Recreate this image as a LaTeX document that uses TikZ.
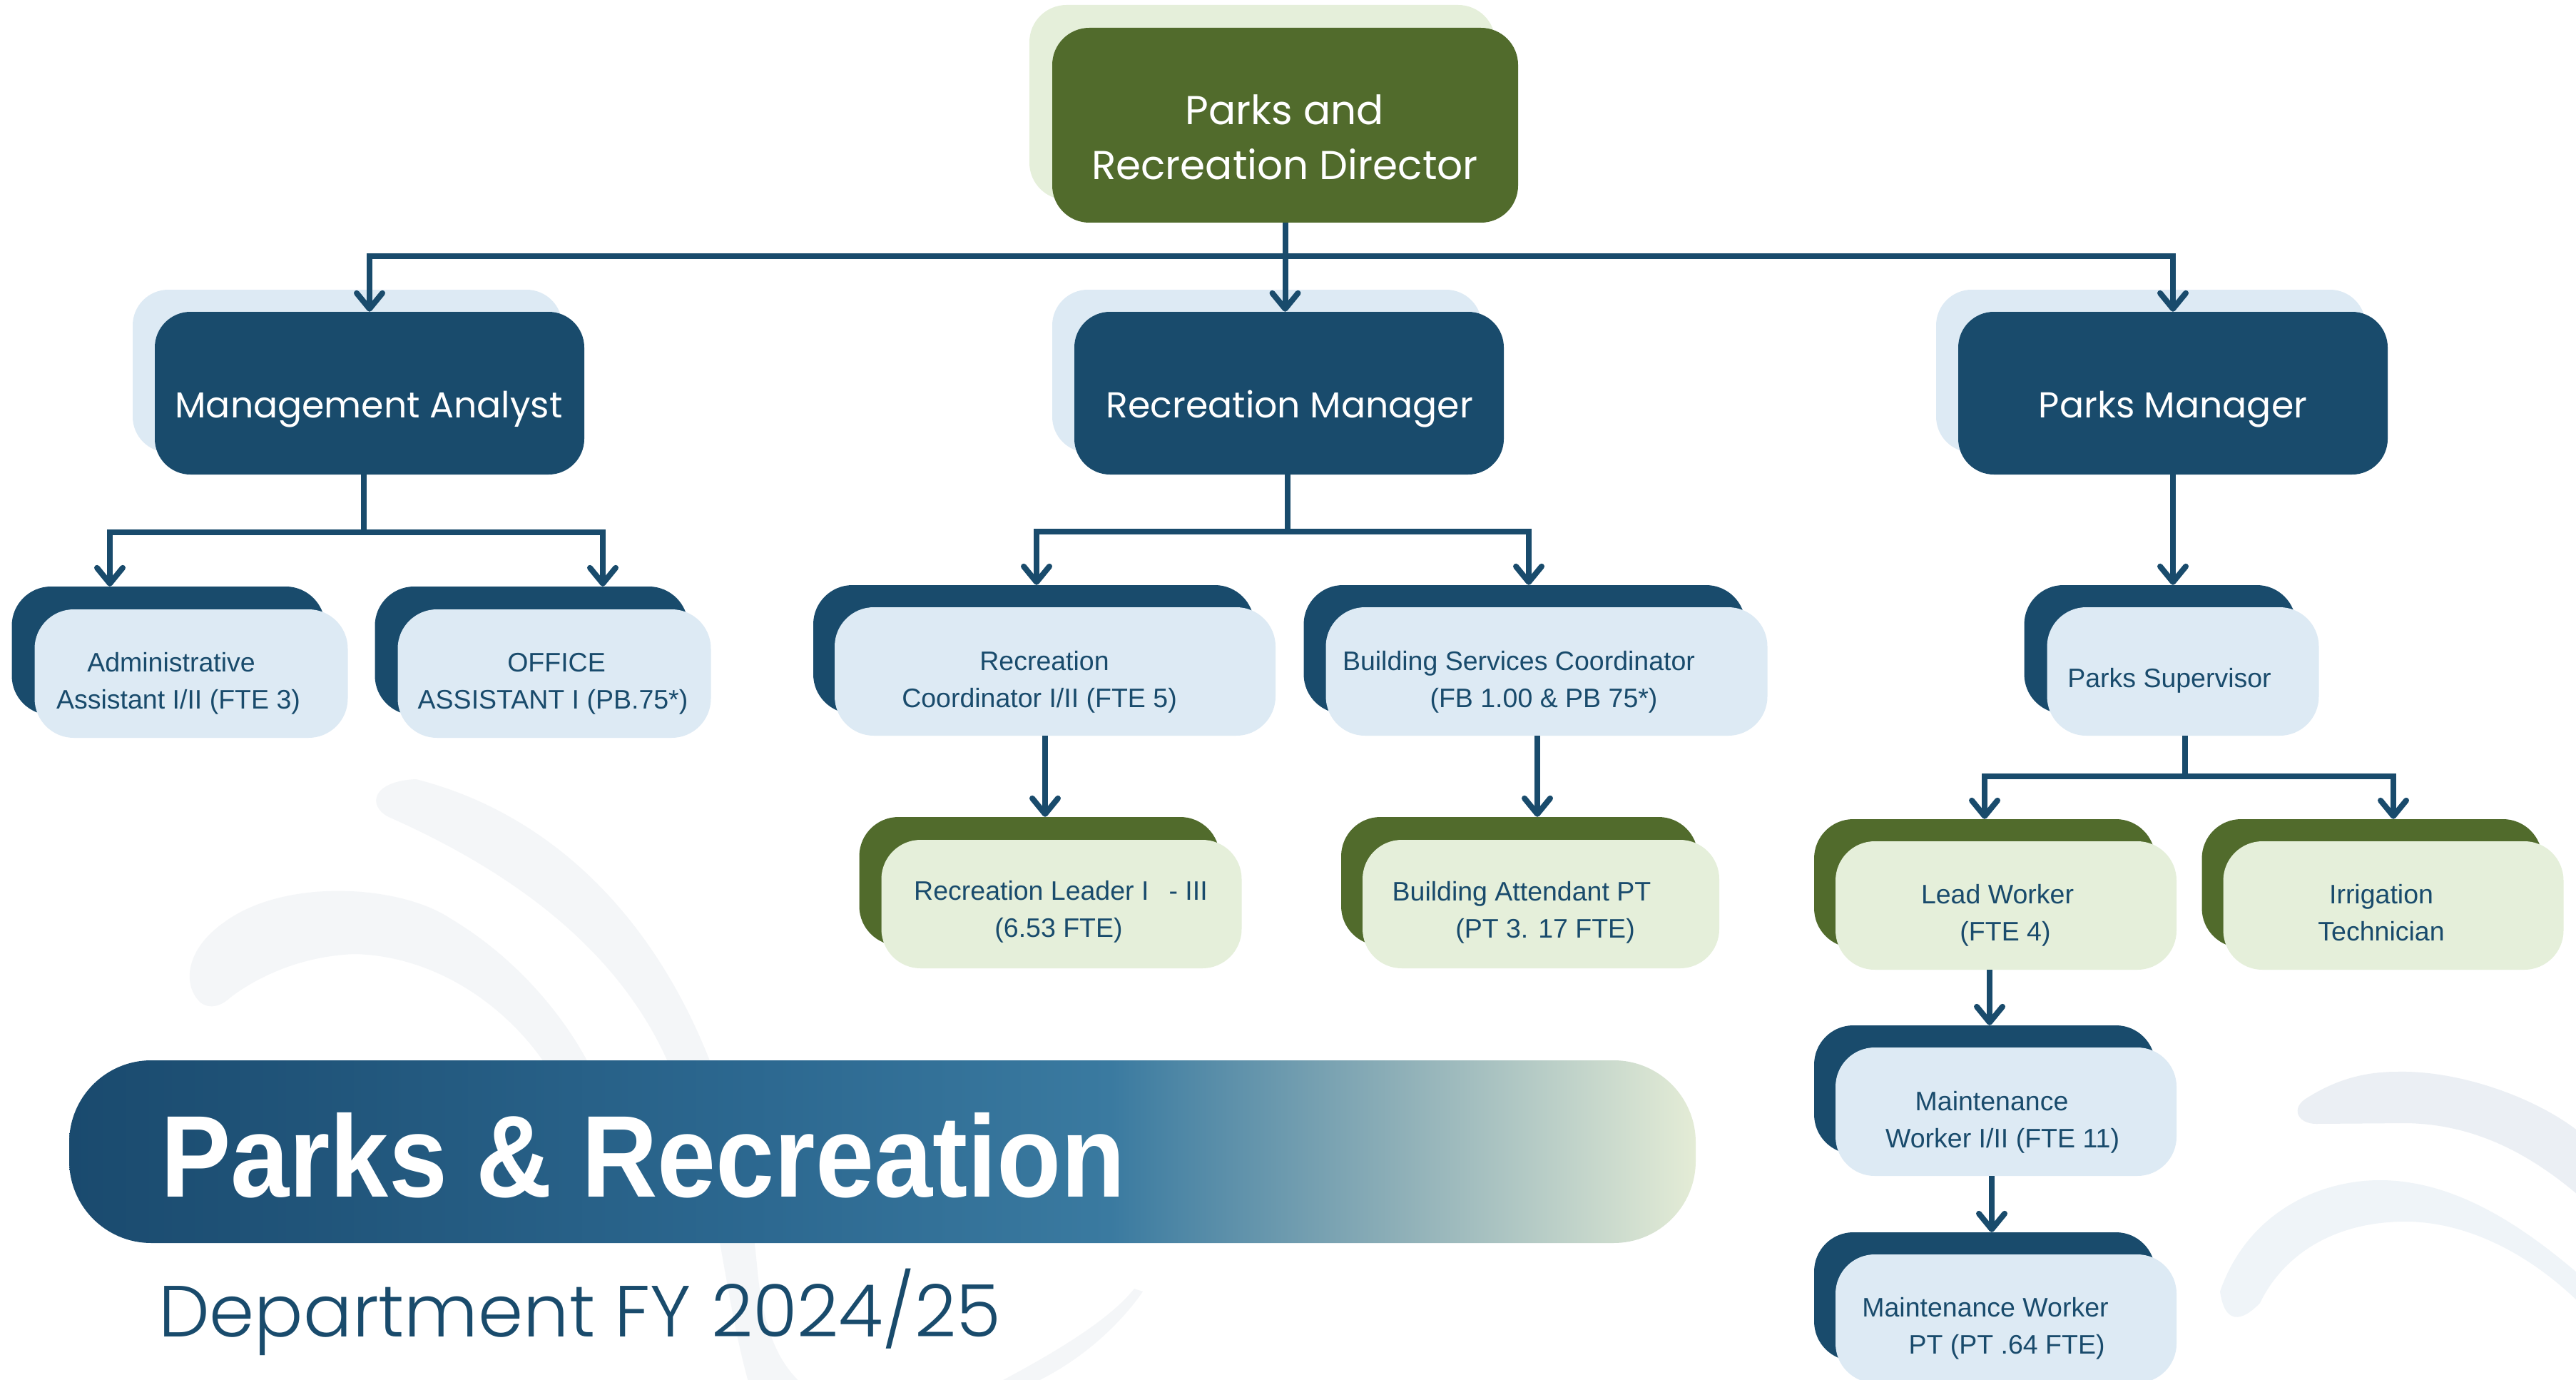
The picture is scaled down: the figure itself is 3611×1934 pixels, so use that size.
\documentclass[tikz,border=0pt]{standalone}
\usepackage{fontspec}
\setmainfont{Liberation Sans}
\newfontfamily\popfont{Poppins}
\newfontfamily\titlefont[FakeStretch=0.905]{Liberation Sans Bold}
\IfFontExistsTF{Poppins Light}{\newfontfamily\subfont{Poppins Light}}{\newfontfamily\subfont{Poppins}}
\usetikzlibrary{arrows.meta,calc}
\definecolor{navy}{HTML}{194B6C}
\definecolor{lblue}{HTML}{DDEAF4}
\definecolor{olive}{HTML}{516B2C}
\definecolor{lgreen}{HTML}{E5EFDA}
\definecolor{wmA}{HTML}{F4F6F8}
\definecolor{wmB}{HTML}{EBEFF4}
\definecolor{wmC}{HTML}{EFF4F8}
\definecolor{bandA}{HTML}{1A4A6E}
\definecolor{bandB}{HTML}{2C6890}
\definecolor{bandC}{HTML}{3A7AA0}
\definecolor{bandD}{HTML}{8FB0B8}
\definecolor{bandE}{HTML}{E4ECD6}
\pgfdeclarehorizontalshading{bandshade}{100bp}{color(0bp)=(bandA); color(25bp)=(bandA); color(46bp)=(bandB); color(57bp)=(bandC); color(66bp)=(bandD); color(75bp)=(bandE); color(100bp)=(bandE)}
\newcommand{\myoff}[1]{\rule{#1pt}{0pt}}
\begin{document}
\begin{tikzpicture}[x=1pt,y=-1pt,
  conn/.style={draw=navy,line width=8pt},
  arr/.style={-{Straight Barb[length=22pt,width=36pt,round]}},
  dirfront/.style={fill=olive,rounded corners=52pt,minimum width=653pt,minimum height=273pt,inner sep=0pt},
  dirback/.style={fill=lgreen,rounded corners=52pt,minimum width=653pt,minimum height=273pt,inner sep=0pt},
  mgrfront/.style={fill=navy,rounded corners=50pt,minimum width=602pt,minimum height=228pt,inner sep=0pt},
  mgrback/.style={fill=lblue,rounded corners=50pt,minimum width=602pt,minimum height=228pt,inner sep=0pt},
  bfront/.style={fill=lblue,rounded corners=55pt,minimum height=180pt,inner sep=0pt},
  bback/.style={fill=navy,rounded corners=55pt,minimum height=180pt,inner sep=0pt},
  gfront/.style={fill=lgreen,rounded corners=55pt,minimum height=180pt,inner sep=0pt},
  gback/.style={fill=olive,rounded corners=55pt,minimum height=180pt,inner sep=0pt},
  lbl/.style={font=\fontsize{37.5}{52}\selectfont,text=navy,align=center,inner sep=0pt,anchor=base},
  hd/.style={font=\popfont\fontsize{50.5}{60}\selectfont,text=white,inner sep=0pt,anchor=base},
  dirtxt/.style={font=\popfont\fontsize{56.5}{77}\selectfont,text=white,align=center,inner sep=0pt,anchor=base}
]
\useasboundingbox (0,0) rectangle (3611,1934);
\fill[white] (0,0) rectangle (3611,1934);
% watermarks
\fill[wmA] (583,1092) .. controls (850,1160) and (1030,1420) .. (1062,1783) .. controls (1070,1860) and (1090,1910) .. (1125,1940) -- (1050,1940) .. controls (1010,1800) and (1000,1600) .. (937,1490) .. controls (880,1360) and (760,1240) .. (545,1145) .. controls (515,1130) and (520,1095) .. (583,1092) -- cycle;
\fill[wmA] (281,1405) .. controls (255,1380) and (260,1330) .. (315,1292) .. controls (400,1230) and (560,1240) .. (631,1287) .. controls (720,1340) and (790,1420) .. (830,1500) -- (770,1500) .. controls (720,1420) and (620,1340) .. (497,1337) .. controls (420,1340) and (360,1370) .. (324,1397) .. controls (310,1410) and (295,1415) .. (281,1405) -- cycle;
\fill[wmA] (1602,1810) .. controls (1560,1870) and (1500,1915) .. (1445,1940) -- (1395,1940) .. controls (1480,1895) and (1555,1850) .. (1590,1806) -- cycle;
\fill[wmB] (3235,1538) .. controls (3280,1510) and (3320,1502) .. (3361,1502) .. controls (3450,1500) and (3560,1540) .. (3620,1590) -- (3620,1680) .. controls (3540,1610) and (3460,1575) .. (3372,1574) -- (3247,1575) .. controls (3220,1575) and (3210,1552) .. (3235,1538) -- cycle;
\fill[wmC] (3112,1810) .. controls (3150,1700) and (3250,1654) .. (3336,1654) .. controls (3450,1654) and (3550,1730) .. (3620,1790) -- (3620,1830) .. controls (3540,1750) and (3450,1712) .. (3372,1712) .. controls (3270,1712) and (3200,1760) .. (3168,1826) .. controls (3150,1845) and (3120,1865) .. (3112,1810) -- cycle;
% title band
\shade[shading=bandshade,rounded corners=115pt] (97,1486) rectangle (2377,1742);
\node[font=\titlefont\fontsize{163}{190}\selectfont,text=white,anchor=base west,inner sep=0pt] (title) at (225,1677) {Parks \& Recreation};
\node[font=\subfont\fontsize{101.5}{120}\selectfont,text=navy,anchor=base west,inner sep=0pt] (subtitle) at (222,1873) {Department FY 2024/25};
% director
\node[dirback] (dirb) at (1769.5,143.5) {};
\node[dirfront] (dir) at (1801.5,175.5) {};
\node[dirtxt] (dirT) at (1801,252) {Parks and\\Recreation Director};
% managers
\node[mgrback] (mab) at (487,520) {};
\node[mgrfront] (ma) at (518,551) {};
\node[hd] (maT) at (517,585) {Management Analyst};
\node[mgrback] (rmb) at (1776,520) {};
\node[mgrfront] (rm) at (1807,551) {};
\node[hd] (rmT) at (1808,585) {Recreation Manager};
\node[mgrback] (pmb) at (3015,520) {};
\node[mgrfront] (pm) at (3046,551) {};
\node[hd] (pmT) at (3046,585) {Parks Manager};
% admin / office
\node[bback,minimum width=439pt] (admb) at (236,912) {};
\node[bfront,minimum width=439pt] (adm) at (268,944) {};
\node[lbl] (admT) at (240,993) {Administrative\\\myoff{20}Assistant I/II (FTE 3)};
\node[bback,minimum width=439pt] (offb) at (745,912) {};
\node[bfront,minimum width=439pt] (off) at (777,944) {};
\node[lbl] (offT) at (780,993) {OFFICE\\ASSISTANT I (PB.75*)\myoff{10}};
% recreation coordinators
\node[bback,minimum width=618pt] (rcb) at (1449,910) {};
\node[bfront,minimum width=618pt] (rc) at (1479,941) {};
\node[lbl] (rcT) at (1464,991) {Recreation\\Coordinator I/II (FTE 5)\myoff{14}};
\node[bback,minimum width=619pt] (bsb) at (2137,910) {};
\node[bfront,minimum width=619pt] (bs) at (2168,941) {};
\node[lbl] (bsT) at (2129,991) {Building Services Coordinator\\\myoff{70}(FB 1.00 \& PB 75*)};
\node[gback,minimum width=505pt] (rlb) at (1457,1235) {};
\node[gfront,minimum width=505pt] (rl) at (1488,1267) {};
\node[lbl] (rlT) at (1487,1313) {Recreation Leader I\hspace{28pt}- III\\(6.53 FTE)\myoff{6}};
\node[gback,minimum width=500pt] (bab) at (2130,1235) {};
\node[gfront,minimum width=500pt] (ba) at (2160,1267) {};
\node[lbl] (baT) at (2133,1314) {Building Attendant PT\\\myoff{66}(PT 3. 17 FTE)};
% parks branch
\node[bback,minimum width=381pt] (psb) at (3028,910) {};
\node[bfront,minimum width=381pt] (ps) at (3060,941) {};
\node[lbl] (psT) at (3041,963) {Parks Supervisor};
\node[gback,minimum width=478pt] (lwb) at (2782,1238) {};
\node[gfront,minimum width=478pt] (lw) at (2812,1269) {};
\node[lbl] (lwT) at (2800,1318) {Lead Worker\\\myoff{22}(FTE 4)};
\node[gback,minimum width=477pt] (irb) at (3325,1238) {};
\node[gfront,minimum width=477pt] (ir) at (3355,1269) {};
\node[lbl] (irT) at (3338,1318) {Irrigation\\Technician};
\node[bback,minimum width=478pt] (mib) at (2782,1527) {};
\node[bfront,minimum width=478pt] (mi) at (2812,1558) {};
\node[lbl] (miT) at (2792,1608) {Maintenance\\\myoff{30}Worker I/II (FTE 11)};
\node[bback,minimum width=478pt] (ptb) at (2782,1817) {};
\node[bfront,minimum width=478pt] (pt) at (2812,1848) {};
\node[lbl] (ptT) at (2783,1897) {Maintenance Worker\\\myoff{60}PT (PT .64 FTE)};
% connectors
\coordinate (busA) at (1801.5,359);
\draw[conn] (dir.south) -- (busA);
\draw[conn,arr] (busA) -| (ma.north);
\draw[conn,arr] (busA) -| (pm.north);
\draw[conn,arr] (busA) -- (busA |- rm.north);
\coordinate (busB) at (510,746);
\draw[conn] (busB |- ma.south) -- (busB);
\draw[conn,arr] (busB) -| ($(admb.north)+(-82,0)$);
\draw[conn,arr] (busB) -| ($(offb.north)+(100,0)$);
\coordinate (busC) at (1805,745);
\draw[conn] (busC |- rm.south) -- (busC);
\draw[conn,arr] (busC) -| ($(rcb.north)+(4,0)$);
\draw[conn,arr] (busC) -| ($(bsb.north)+(6,0)$);
\draw[conn,arr] ($(rlb.north |- rc.south)+(8,0)$) -- ($(rlb.north)+(8,0)$);
\draw[conn,arr] ($(ba.north |- bs.south)+(-5,0)$) -- ($(ba.north |- bab.north)+(-5,0)$);
\draw[conn,arr] (pm.south) -- (pm.south |- psb.north);
\coordinate (busD) at (3063,1088);
\draw[conn] (busD |- ps.south) -- (busD);
\draw[conn,arr] (busD) -| (lwb.north);
\draw[conn,arr] (busD) -| (ir.north |- irb.north);
\draw[conn,arr] ($(mib.north |- lw.south)+(7,0)$) -- ($(mib.north)+(7,0)$);
\draw[conn,arr] ($(ptb.north |- mi.south)+(10,0)$) -- ($(ptb.north)+(10,0)$);
\end{tikzpicture}
\end{document}
